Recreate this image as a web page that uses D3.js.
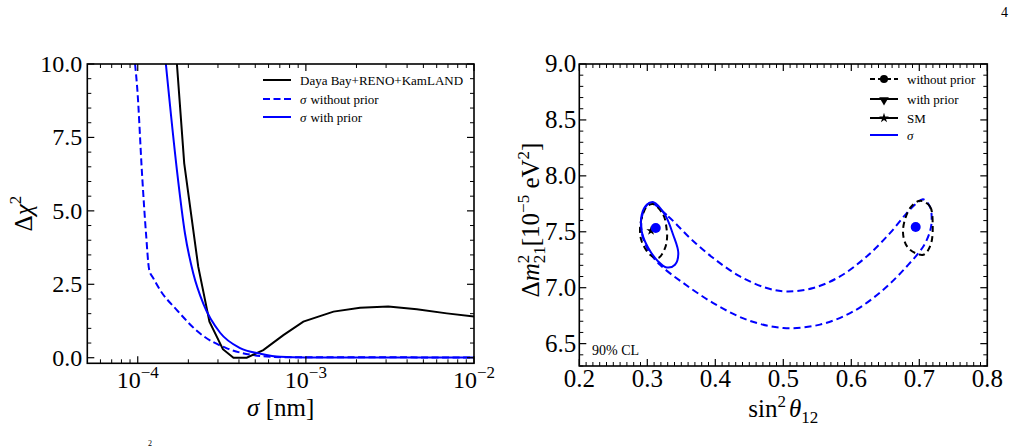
<!DOCTYPE html>
<html>
<head>
<meta charset="utf-8">
<script src="https://cdn.jsdelivr.net/npm/d3@7"></script>
<style>
html, body { margin: 0; padding: 0; background: #fff; }
svg { display: block; }
svg text { font-family: "Liberation Serif", "Times New Roman", Times, "DejaVu Serif", serif; }
</style>
</head>
<body>
<div id="chart"></div>
<script>
// ---- left panel: delta chi^2 vs sigma ----
const sigmaDYB = [1.71e-4, 1.89e-4, 2.29e-4, 2.67e-4, 3.21e-4, 3.71e-4, 4.45e-4, 5.58e-4, 7.35e-4, 9.66e-4, 1.46e-3, 2.10e-3, 3.09e-3, 4.57e-3, 6.89e-3, 1.0e-2];
const chiDYB   = [10.0, 6.62, 3.10, 1.23, 0.29, 0.0, 0.0, 0.26, 0.77, 1.23, 1.57, 1.70, 1.74, 1.65, 1.51, 1.40];

const sigmaPrior = [1.47e-4, 1.71e-4, 1.91e-4, 2.14e-4, 2.45e-4, 3.09e-4, 4.06e-4, 5.35e-4, 7.03e-4, 1.0e-3, 1.0e-2];
const chiPrior   = [10.0, 6.39, 4.23, 2.87, 1.85, 0.85, 0.33, 0.14, 0.03, 0.01, 0.01];

const sigmaNoPrior = [9.64e-5, 9.95e-5, 1.06e-4, 1.12e-4, 1.17e-4, 1.24e-4, 1.36e-4, 1.71e-4, 2.34e-4, 3.39e-4, 4.88e-4, 7.08e-4, 1.0e-2];
const chiNoPrior   = [10.0, 9.11, 6.28, 4.23, 2.99, 2.70, 2.30, 1.62, 0.83, 0.32, 0.09, 0.02, 0.01];

const chiTicks = [0, 2.5, 5, 7.5, 10];
const sigmaMajor = [1e-4, 1e-3, 1e-2];
const sigmaExp = ["\u22124", "\u22123", "\u22122"];

// ---- right panel: dm21^2 vs sin^2 theta12 (90% CL contours) ----
const sigmaEllipse = [[0.309,7.765],[0.326,7.652],[0.338,7.473],[0.3456,7.31],[0.3407,7.205],[0.3285,7.181],[0.316,7.235],[0.3015,7.355],[0.2918,7.503],[0.2918,7.652],[0.2991,7.741]];
const noPriorLeft = [[0.309,7.747],[0.3235,7.652],[0.3285,7.52],[0.329,7.44],[0.326,7.354],[0.3162,7.265],[0.304,7.295],[0.2918,7.413],[0.2893,7.533],[0.2941,7.667],[0.3,7.73]];
const noPriorRight = [[0.701,7.777],[0.7157,7.726],[0.7197,7.563],[0.7167,7.384],[0.706,7.295],[0.6838,7.354],[0.676,7.503],[0.6863,7.711]];
const sigmaBand = [[0.304,7.759],[0.3309,7.637],[0.3628,7.444],[0.397,7.265],[0.4363,7.101],[0.4756,6.997],[0.505,6.967],[0.5441,6.997],[0.5834,7.101],[0.6226,7.279],[0.6569,7.488],[0.6815,7.667],[0.6962,7.756],[0.7054,7.79],[0.7157,7.723],[0.7182,7.607],[0.7157,7.503],[0.7059,7.369],[0.6815,7.19],[0.6471,6.982],[0.6029,6.788],[0.554,6.67],[0.50,6.64],[0.4462,6.714],[0.397,6.863],[0.3529,7.042],[0.3187,7.205],[0.301,7.339],[0.2918,7.5],[0.2937,7.67]];
const bestFit = [[0.3124,7.533],[0.6947,7.542]];
const smPoint = [0.3055,7.509];

const sinTicks = [0.2, 0.3, 0.4, 0.5, 0.6, 0.7, 0.8];
const dmTicks = [6.5, 7.0, 7.5, 8.0, 8.5, 9.0];

const W = 1019, H = 447;
const BLUE = "#0000ff";
const FONT = "'Liberation Serif', 'Times New Roman', Times, 'DejaVu Serif', serif";
const fmt = d3.format(".1f");

const svg = d3.select("#chart").append("svg")
    .attr("width", W).attr("height", H)
    .attr("viewBox", `0 0 ${W} ${H}`)
    .attr("font-family", FONT);

// 坐标框 + 朝内刻度
function drawFrame(g, box, xs, ys, xMaj, xMin, yMaj, yMin) {
    const T = 7, t = 4;
    const ln = (x1, y1, x2, y2, w) => g.append("line")
        .attr("x1", x1).attr("y1", y1).attr("x2", x2).attr("y2", y2)
        .attr("stroke", "#000").attr("stroke-width", w);
    xMaj.forEach(v => { const p = xs(v); ln(p, box.y1, p, box.y1 - T, 1.2); ln(p, box.y0, p, box.y0 + T, 1.2); });
    xMin.forEach(v => { const p = xs(v); ln(p, box.y1, p, box.y1 - t, 1); ln(p, box.y0, p, box.y0 + t, 1); });
    yMaj.forEach(v => { const p = ys(v); ln(box.x0, p, box.x0 + T, p, 1.2); ln(box.x1, p, box.x1 - T, p, 1.2); });
    yMin.forEach(v => { const p = ys(v); ln(box.x0, p, box.x0 + t, p, 1); ln(box.x1, p, box.x1 - t, p, 1); });
    g.append("rect")
        .attr("x", box.x0).attr("y", box.y0)
        .attr("width", box.x1 - box.x0).attr("height", box.y1 - box.y0)
        .attr("fill", "none").attr("stroke", "#000").attr("stroke-width", 1.6);
}

// ================= left panel =================
const L = { x0: 87.3, x1: 474, y0: 64, y1: 363.3 };
const xL = d3.scaleLog().domain([Math.pow(10, -4.3), 1e-2]).range([L.x0, L.x1]);
const yL = d3.scaleLinear().domain([-0.19, 10]).range([L.y1, L.y0]);

const gL = svg.append("g");
svg.append("clipPath").attr("id", "clipL").append("rect")
    .attr("x", L.x0).attr("y", L.y0).attr("width", L.x1 - L.x0).attr("height", L.y1 - L.y0);

const lineL = d3.line().x(d => xL(d[0])).y(d => yL(d[1]));
const zip = (a, b) => a.map((v, i) => [v, b[i]]);

const curvesL = gL.append("g").attr("clip-path", "url(#clipL)");
curvesL.append("path").datum(zip(sigmaNoPrior, chiNoPrior))
    .attr("d", lineL.curve(d3.curveMonotoneX)).attr("fill", "none")
    .attr("stroke", BLUE).attr("stroke-width", 2).attr("stroke-dasharray", "7,3.5");
curvesL.append("path").datum(zip(sigmaDYB, chiDYB))
    .attr("d", lineL.curve(d3.curveLinear)).attr("fill", "none")
    .attr("stroke", "#000").attr("stroke-width", 2);
curvesL.append("path").datum(zip(sigmaPrior, chiPrior))
    .attr("d", lineL.curve(d3.curveMonotoneX)).attr("fill", "none")
    .attr("stroke", BLUE).attr("stroke-width", 2);

const sigmaMinor = [];
[-5, -4, -3].forEach(e => { for (let k = 2; k <= 9; k++) { const v = k * Math.pow(10, e); if (v > xL.domain()[0] && v < 1e-2) sigmaMinor.push(v); } });
const chiMinor = d3.range(0, 10.01, 0.5).filter(v => !chiTicks.includes(v));
drawFrame(gL, L, xL, yL, sigmaMajor, sigmaMinor, chiTicks, chiMinor);

// tick labels
gL.selectAll(".ylab").data(chiTicks).enter().append("text")
    .attr("x", L.x0 - 5).attr("y", d => yL(d) + 8)
    .attr("text-anchor", "end").attr("font-size", 24).text(d => fmt(d));
sigmaMajor.forEach((v, i) => {
    const t = gL.append("text").attr("x", xL(v)).attr("y", 388)
        .attr("text-anchor", "middle").attr("font-size", 24);
    t.append("tspan").text("10");
    t.append("tspan").attr("dy", -10).attr("font-size", 17).text(sigmaExp[i]);
});

// axis titles
const xtL = gL.append("text").attr("x", (L.x0 + L.x1) / 2).attr("y", 416)
    .attr("text-anchor", "middle").attr("font-size", 25);
xtL.append("tspan").attr("font-style", "italic").text("\u03c3");
xtL.append("tspan").text(" [nm]");

const ytL = gL.append("text").attr("transform", `translate(32, ${(L.y0 + L.y1) / 2}) rotate(-90)`)
    .attr("text-anchor", "middle").attr("font-size", 25);
ytL.append("tspan").text("\u0394");
ytL.append("tspan").attr("font-style", "italic").text("\u03c7");
ytL.append("tspan").attr("dy", -11).attr("font-size", 17).text("2");

// legend
const legL = [
    { sig: false, color: "#000", dash: null, text: "Daya Bay+RENO+KamLAND" },
    { sig: true, color: BLUE, dash: "7,3.5", text: "without prior" },
    { sig: true, color: BLUE, dash: null, text: "with prior" }
];
const legLY = [80, 99, 117];
legL.forEach((d, i) => {
    const y = legLY[i];
    gL.append("line").attr("x1", 263).attr("x2", 291).attr("y1", y).attr("y2", y)
        .attr("stroke", d.color).attr("stroke-width", 2)
        .attr("stroke-dasharray", d.dash);
    const t = gL.append("text").attr("x", 300).attr("y", y + 4.5).attr("font-size", 13);
    if (d.sig) {
        t.append("tspan").attr("font-style", "italic").text("\u03c3");
        t.append("tspan").attr("dx", 4).text(d.text);
    } else {
        t.text(d.text);
    }
});

// ================= right panel =================
const R = { x0: 579.3, x1: 987.3, y0: 64, y1: 366 };
const xR = d3.scaleLinear().domain([0.2, 0.8]).range([R.x0, R.x1]);
const yR = d3.scaleLinear().domain([6.3, 9.0]).range([R.y1, R.y0]);

const gR = svg.append("g");
svg.append("clipPath").attr("id", "clipR").append("rect")
    .attr("x", R.x0).attr("y", R.y0).attr("width", R.x1 - R.x0).attr("height", R.y1 - R.y0);
const curvesR = gR.append("g").attr("clip-path", "url(#clipR)");
const closed = d3.line().x(d => xR(d[0])).y(d => yR(d[1])).curve(d3.curveCatmullRomClosed.alpha(0.5));

curvesR.append("path").datum(sigmaBand).attr("d", closed).attr("fill", "none")
    .attr("stroke", BLUE).attr("stroke-width", 2).attr("stroke-dasharray", "7,4");
[noPriorLeft, noPriorRight].forEach(c => {
    curvesR.append("path").datum(c).attr("d", closed).attr("fill", "none")
        .attr("stroke", "#000").attr("stroke-width", 2).attr("stroke-dasharray", "6,4");
});
curvesR.append("path").datum(sigmaEllipse).attr("d", closed).attr("fill", "none")
    .attr("stroke", BLUE).attr("stroke-width", 2);

curvesR.append("path")
    .attr("transform", `translate(${xR(smPoint[0])}, ${yR(smPoint[1])})`)
    .attr("d", d3.symbol(d3.symbolStar, 28)()).attr("fill", "#000");
curvesR.selectAll(".bf").data(bestFit).enter().append("circle")
    .attr("cx", d => xR(d[0])).attr("cy", d => yR(d[1])).attr("r", 5).attr("fill", BLUE);

const sinMinor = d3.range(20, 81, 1).map(v => v / 100).filter(v => Math.round(v * 100) % 10 !== 0);
const dmMinor = d3.range(63, 91, 1).map(v => v / 10).filter(v => Math.round(v * 10) % 5 !== 0);
drawFrame(gR, R, xR, yR, sinTicks, sinMinor, dmTicks, dmMinor);

gR.selectAll(".xlab").data(sinTicks).enter().append("text")
    .attr("x", d => xR(d)).attr("y", 387).attr("text-anchor", "middle")
    .attr("font-size", 25).text(d => fmt(d));
gR.selectAll(".ylab").data(dmTicks).enter().append("text")
    .attr("x", R.x0 - 3).attr("y", d => yR(d) + 8).attr("text-anchor", "end")
    .attr("font-size", 25).text(d => fmt(d));

const xtR = gR.append("text").attr("x", (R.x0 + R.x1) / 2).attr("y", 417)
    .attr("text-anchor", "middle").attr("font-size", 25);
xtR.append("tspan").text("sin");
xtR.append("tspan").attr("dy", -10).attr("font-size", 17).text("2");
xtR.append("tspan").attr("dy", 10).attr("dx", 3).attr("font-style", "italic").text("\u03b8");
xtR.append("tspan").attr("dy", 6).attr("font-size", 17).text("12");

const ytR = gR.append("text").attr("transform", `translate(539, 220) rotate(-90)`)
    .attr("text-anchor", "middle").attr("font-size", 25);
ytR.append("tspan").text("\u0394");
ytR.append("tspan").attr("font-style", "italic").text("m");
ytR.append("tspan").attr("dy", -10).attr("font-size", 17).text("2");
ytR.append("tspan").attr("dy", 16).attr("dx", -8.5).attr("font-size", 17).text("21");
ytR.append("tspan").attr("dy", -6).text("[10");
ytR.append("tspan").attr("dy", -10).attr("font-size", 17).text("\u22125");
ytR.append("tspan").attr("dy", 10).text(" eV");
ytR.append("tspan").attr("dy", -10).attr("font-size", 17).text("2");
ytR.append("tspan").attr("dy", 10).text("]");

gR.append("text").attr("x", 592).attr("y", 355).attr("font-size", 14).text("90% CL");

// legend
const legRY = [79, 99, 118, 135];
const legR = [
    { text: "without prior", dash: "5,3", color: "#000", marker: "circle" },
    { text: "with prior", dash: null, color: "#000", marker: "tri" },
    { text: "SM", dash: null, color: "#000", marker: "star" },
    { text: "\u03c3", dash: null, color: BLUE, marker: null, italic: true }
];
legR.forEach((d, i) => {
    const y = legRY[i];
    gR.append("line").attr("x1", 870).attr("x2", 898).attr("y1", y).attr("y2", y)
        .attr("stroke", d.color).attr("stroke-width", 2).attr("stroke-dasharray", d.dash);
    if (d.marker === "circle") {
        gR.append("circle").attr("cx", 884).attr("cy", y).attr("r", 4).attr("fill", "#000");
    } else if (d.marker === "tri") {
        gR.append("path").attr("transform", `translate(884, ${y + 1}) rotate(180)`)
            .attr("d", d3.symbol(d3.symbolTriangle, 40)()).attr("fill", "#000");
    } else if (d.marker === "star") {
        gR.append("path").attr("transform", `translate(884, ${y})`)
            .attr("d", d3.symbol(d3.symbolStar, 30)()).attr("fill", "#000");
    }
    gR.append("text").attr("x", 907).attr("y", y + 4.5).attr("font-size", 13)
        .attr("font-style", d.italic ? "italic" : null).text(d.text);
});

// page number and caption fragment
svg.append("text").attr("x", 1001).attr("y", 17).attr("font-size", 14).text("4");
svg.append("text").attr("x", 148).attr("y", 446).attr("font-size", 8).text("2");
</script>
</body>
</html>
